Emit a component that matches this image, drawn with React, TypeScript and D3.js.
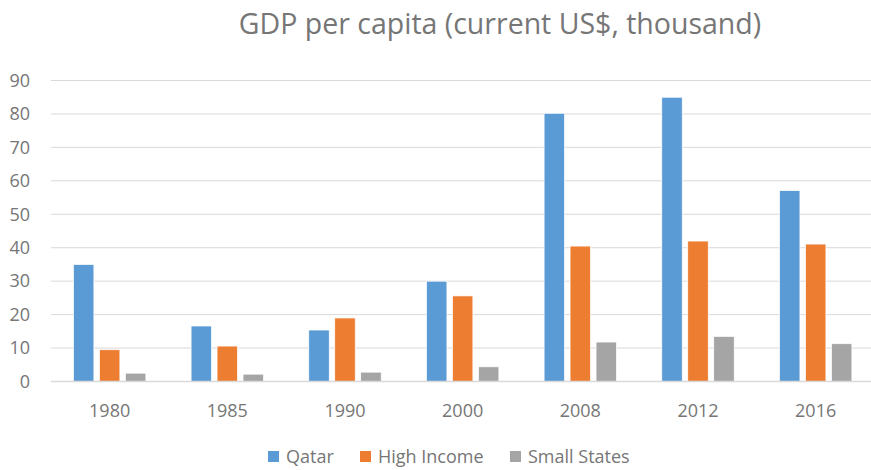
import React, { useRef, useEffect } from 'react';
import * as d3 from 'd3';

const years = ['1980', '1985', '1990', '2000', '2008', '2012', '2016'];
const seriesNames = ['Qatar', 'High Income', 'Small States'];
const qatar = [35.0, 16.6, 15.4, 30.0, 80.2, 85.0, 57.1];
const highIncome = [9.5, 10.6, 19.0, 25.6, 40.5, 42.0, 41.1];
const smallStates = [2.5, 2.2, 2.8, 4.4, 11.8, 13.5, 11.3];
const yTicks = [0, 10, 20, 30, 40, 50, 60, 70, 80, 90];
const colors = ['#5B9BD5', '#ED7D31', '#A5A5A5'];

const W = 871;
const H = 470;
const FONT = '"Open Sans", sans-serif';
const TEXT = '#767676';

const App = () => {
  const svgRef = useRef<SVGSVGElement>(null);

  useEffect(() => {
    const svg = d3.select(svgRef.current);
    svg.selectAll('*').remove();

    const values = [qatar, highIncome, smallStates];

    // outer band per year, inner band per series
    const x0 = d3.scaleBand()
      .domain(years)
      .range([50.8, 874.5])
      .paddingInner(0.384)
      .paddingOuter(0.192);

    const x1 = d3.scaleBand()
      .domain(seriesNames)
      .range([0, x0.bandwidth()])
      .paddingInner(0.21)
      .paddingOuter(0);

    const y = d3.scaleLinear()
      .domain([0, 90])
      .range([381.5, 80.5]);

    // gridlines
    svg.append('g')
      .selectAll('line')
      .data(yTicks.slice(1))
      .join('line')
      .attr('x1', 51)
      .attr('x2', W)
      .attr('y1', d => y(d))
      .attr('y2', d => y(d))
      .attr('stroke', '#D9D9D9')
      .attr('stroke-width', 1);

    // y labels
    svg.append('g')
      .selectAll('text')
      .data(yTicks)
      .join('text')
      .attr('x', 30)
      .attr('y', d => y(d))
      .attr('dy', '0.35em')
      .attr('text-anchor', 'end')
      .attr('font-family', FONT)
      .attr('font-size', 18)
      .attr('fill', TEXT)
      .text(d => d);

    // bars
    const groups = svg.append('g')
      .selectAll('g')
      .data(years)
      .join('g')
      .attr('transform', d => `translate(${x0(d)},0)`);

    groups.selectAll('rect')
      .data((d, i) => seriesNames.map((s, k) => ({ s, k, v: values[k][i] })))
      .join('rect')
      .attr('x', d => x1(d.s)!)
      .attr('y', d => y(d.v))
      .attr('width', x1.bandwidth())
      .attr('height', d => y(0) - y(d.v))
      .attr('fill', d => colors[d.k])
      .attr('stroke', '#fff')
      .attr('stroke-width', 0.75);

    // x axis line
    svg.append('line')
      .attr('x1', 51)
      .attr('x2', W)
      .attr('y1', y(0))
      .attr('y2', y(0))
      .attr('stroke', '#D9D9D9')
      .attr('stroke-width', 1.3);

    // x labels
    svg.append('g')
      .selectAll('text')
      .data(years)
      .join('text')
      .attr('x', d => x0(d)! + x0.bandwidth() / 2)
      .attr('y', 416.5)
      .attr('text-anchor', 'middle')
      .attr('font-family', FONT)
      .attr('font-size', 18)
      .attr('fill', TEXT)
      .text(d => d);

    // title
    svg.append('text')
      .attr('x', 500)
      .attr('y', 34)
      .attr('text-anchor', 'middle')
      .attr('font-family', FONT)
      .attr('font-size', 28.5)
      .attr('fill', TEXT)
      .text('GDP per capita (current US$, thousand)');

    // legend
    const legendX = [268, 360, 510];
    const legend = svg.append('g')
      .selectAll('g')
      .data(seriesNames)
      .join('g')
      .attr('transform', (d, i) => `translate(${legendX[i]},451)`);

    legend.append('rect')
      .attr('width', 11)
      .attr('height', 11)
      .attr('fill', (d, i) => colors[i]);

    legend.append('text')
      .attr('x', 18)
      .attr('y', 5.5)
      .attr('dy', '0.35em')
      .attr('font-family', FONT)
      .attr('font-size', 18)
      .attr('fill', TEXT)
      .text(d => d);
  }, []);

  return (
    <div style={{ position: 'absolute', left: 0, top: 0 }}>
      <svg ref={svgRef} width={W} height={H} viewBox={`0 0 ${W} ${H}`} style={{ display: 'block', background: '#fff' }} />
    </div>
  );
};

export default App;
